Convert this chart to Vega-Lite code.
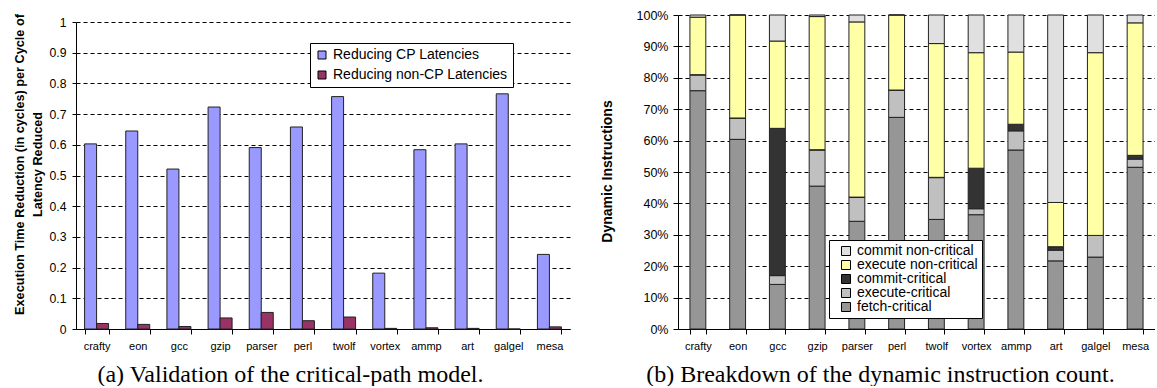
{
  "$schema": "https://vega.github.io/schema/vega-lite/v6.json",
  "background": "white",
  "padding": {"left": 13, "top": 9, "right": 0, "bottom": 0},
  "bounds": "flush",
  "spacing": 108,
  "resolve": {"scale": {"color": "independent", "x": "independent", "y": "independent"}, "legend": {"color": "independent"}},
  "config": {
    "view": {"stroke": null},
    "font": "Liberation Sans",
    "axis": {
      "labelColor": "#000",
      "domainColor": "#000",
      "tickColor": "#000",
      "titleColor": "#000"
    }
  },
  "datasets": {
    "cp": [
      {"bench": "crafty", "series": "Reducing CP Latencies", "value": 0.603},
      {"bench": "crafty", "series": "Reducing non-CP Latencies", "value": 0.018},
      {"bench": "eon", "series": "Reducing CP Latencies", "value": 0.645},
      {"bench": "eon", "series": "Reducing non-CP Latencies", "value": 0.015},
      {"bench": "gcc", "series": "Reducing CP Latencies", "value": 0.521},
      {"bench": "gcc", "series": "Reducing non-CP Latencies", "value": 0.008},
      {"bench": "gzip", "series": "Reducing CP Latencies", "value": 0.723},
      {"bench": "gzip", "series": "Reducing non-CP Latencies", "value": 0.036},
      {"bench": "parser", "series": "Reducing CP Latencies", "value": 0.591},
      {"bench": "parser", "series": "Reducing non-CP Latencies", "value": 0.054},
      {"bench": "perl", "series": "Reducing CP Latencies", "value": 0.658},
      {"bench": "perl", "series": "Reducing non-CP Latencies", "value": 0.027},
      {"bench": "twolf", "series": "Reducing CP Latencies", "value": 0.757},
      {"bench": "twolf", "series": "Reducing non-CP Latencies", "value": 0.039},
      {"bench": "vortex", "series": "Reducing CP Latencies", "value": 0.182},
      {"bench": "vortex", "series": "Reducing non-CP Latencies", "value": 0.002},
      {"bench": "ammp", "series": "Reducing CP Latencies", "value": 0.584},
      {"bench": "ammp", "series": "Reducing non-CP Latencies", "value": 0.004},
      {"bench": "art", "series": "Reducing CP Latencies", "value": 0.603},
      {"bench": "art", "series": "Reducing non-CP Latencies", "value": 0.002},
      {"bench": "galgel", "series": "Reducing CP Latencies", "value": 0.766},
      {"bench": "galgel", "series": "Reducing non-CP Latencies", "value": 0.0},
      {"bench": "mesa", "series": "Reducing CP Latencies", "value": 0.243},
      {"bench": "mesa", "series": "Reducing non-CP Latencies", "value": 0.007}
    ],
    "dyn": [
      {"bench": "crafty", "type": "fetch-critical", "k": 1, "value": 0.759},
      {"bench": "crafty", "type": "execute-critical", "k": 2, "value": 0.050},
      {"bench": "crafty", "type": "commit-critical", "k": 3, "value": 0.001},
      {"bench": "crafty", "type": "execute non-critical", "k": 4, "value": 0.183},
      {"bench": "crafty", "type": "commit non-critical", "k": 5, "value": 0.007},
      {"bench": "eon", "type": "fetch-critical", "k": 1, "value": 0.604},
      {"bench": "eon", "type": "execute-critical", "k": 2, "value": 0.068},
      {"bench": "eon", "type": "commit-critical", "k": 3, "value": 0.0},
      {"bench": "eon", "type": "execute non-critical", "k": 4, "value": 0.328},
      {"bench": "eon", "type": "commit non-critical", "k": 5, "value": 0.0},
      {"bench": "gcc", "type": "fetch-critical", "k": 1, "value": 0.142},
      {"bench": "gcc", "type": "execute-critical", "k": 2, "value": 0.028},
      {"bench": "gcc", "type": "commit-critical", "k": 3, "value": 0.469},
      {"bench": "gcc", "type": "execute non-critical", "k": 4, "value": 0.278},
      {"bench": "gcc", "type": "commit non-critical", "k": 5, "value": 0.083},
      {"bench": "gzip", "type": "fetch-critical", "k": 1, "value": 0.455},
      {"bench": "gzip", "type": "execute-critical", "k": 2, "value": 0.115},
      {"bench": "gzip", "type": "commit-critical", "k": 3, "value": 0.001},
      {"bench": "gzip", "type": "execute non-critical", "k": 4, "value": 0.424},
      {"bench": "gzip", "type": "commit non-critical", "k": 5, "value": 0.005},
      {"bench": "parser", "type": "fetch-critical", "k": 1, "value": 0.343},
      {"bench": "parser", "type": "execute-critical", "k": 2, "value": 0.076},
      {"bench": "parser", "type": "commit-critical", "k": 3, "value": 0.001},
      {"bench": "parser", "type": "execute non-critical", "k": 4, "value": 0.558},
      {"bench": "parser", "type": "commit non-critical", "k": 5, "value": 0.022},
      {"bench": "perl", "type": "fetch-critical", "k": 1, "value": 0.674},
      {"bench": "perl", "type": "execute-critical", "k": 2, "value": 0.087},
      {"bench": "perl", "type": "commit-critical", "k": 3, "value": 0.0},
      {"bench": "perl", "type": "execute non-critical", "k": 4, "value": 0.239},
      {"bench": "perl", "type": "commit non-critical", "k": 5, "value": 0.0},
      {"bench": "twolf", "type": "fetch-critical", "k": 1, "value": 0.349},
      {"bench": "twolf", "type": "execute-critical", "k": 2, "value": 0.133},
      {"bench": "twolf", "type": "commit-critical", "k": 3, "value": 0.001},
      {"bench": "twolf", "type": "execute non-critical", "k": 4, "value": 0.426},
      {"bench": "twolf", "type": "commit non-critical", "k": 5, "value": 0.091},
      {"bench": "vortex", "type": "fetch-critical", "k": 1, "value": 0.364},
      {"bench": "vortex", "type": "execute-critical", "k": 2, "value": 0.019},
      {"bench": "vortex", "type": "commit-critical", "k": 3, "value": 0.129},
      {"bench": "vortex", "type": "execute non-critical", "k": 4, "value": 0.368},
      {"bench": "vortex", "type": "commit non-critical", "k": 5, "value": 0.120},
      {"bench": "ammp", "type": "fetch-critical", "k": 1, "value": 0.570},
      {"bench": "ammp", "type": "execute-critical", "k": 2, "value": 0.061},
      {"bench": "ammp", "type": "commit-critical", "k": 3, "value": 0.021},
      {"bench": "ammp", "type": "execute non-critical", "k": 4, "value": 0.230},
      {"bench": "ammp", "type": "commit non-critical", "k": 5, "value": 0.118},
      {"bench": "art", "type": "fetch-critical", "k": 1, "value": 0.217},
      {"bench": "art", "type": "execute-critical", "k": 2, "value": 0.034},
      {"bench": "art", "type": "commit-critical", "k": 3, "value": 0.011},
      {"bench": "art", "type": "execute non-critical", "k": 4, "value": 0.141},
      {"bench": "art", "type": "commit non-critical", "k": 5, "value": 0.597},
      {"bench": "galgel", "type": "fetch-critical", "k": 1, "value": 0.229},
      {"bench": "galgel", "type": "execute-critical", "k": 2, "value": 0.069},
      {"bench": "galgel", "type": "commit-critical", "k": 3, "value": 0.0},
      {"bench": "galgel", "type": "execute non-critical", "k": 4, "value": 0.582},
      {"bench": "galgel", "type": "commit non-critical", "k": 5, "value": 0.120},
      {"bench": "mesa", "type": "fetch-critical", "k": 1, "value": 0.515},
      {"bench": "mesa", "type": "execute-critical", "k": 2, "value": 0.026},
      {"bench": "mesa", "type": "commit-critical", "k": 3, "value": 0.012},
      {"bench": "mesa", "type": "execute non-critical", "k": 4, "value": 0.422},
      {"bench": "mesa", "type": "commit non-critical", "k": 5, "value": 0.025}
    ]
  },
  "hconcat": [
    {
      "width": 494,
      "height": 314,
      "data": {"name": "cp"},
      "mark": {"type": "bar", "stroke": "#222", "strokeWidth": 1},
      "encoding": {
        "x": {
          "field": "bench", "type": "nominal", "sort": null,
          "scale": {"paddingInner": 0.417, "paddingOuter": 0.2085},
          "axis": {
            "title": "(a) Validation of the critical-path model.",
            "titleFont": "Liberation Serif", "titleFontSize": 24, "titleFontWeight": "normal",
            "titleX": 214, "titleY": 52, "titleAlign": "center", "titleBaseline": "alphabetic",
            "labelAngle": 0, "labelFontSize": 11, "labelPadding": 6, "tickSize": 5,
            "tickBand": "extent", "grid": false
          }
        },
        "xOffset": {
          "field": "series", "type": "nominal", "sort": null,
          "scale": {"domain": ["Reducing CP Latencies", "Reducing non-CP Latencies"], "paddingInner": 0, "paddingOuter": 0}
        },
        "y": {
          "field": "value", "type": "quantitative",
          "scale": {"domain": [0, 1], "range": [314, 7], "nice": false},
          "axis": {
            "values": [0, 0.1, 0.2, 0.3, 0.4, 0.5, 0.6, 0.7, 0.8, 0.9, 1],
            "format": "~g",
            "grid": true, "gridDash": [4, 3], "gridColor": "#000", "gridWidth": 1,
            "labelFontSize": 12.2, "labelPadding": 6, "tickSize": 4,
            "title": ["Execution Time Reduction (in cycles) per Cycle of", "Latency Reduced"],
            "titleFontSize": 12.7, "titleFontWeight": "bold", "titleLineHeight": 18,
            "titleX": -57, "titleY": 149, "titleBaseline": "middle", "titleAlign": "center", "titleAngle": -90
          }
        },
        "color": {
          "field": "series", "type": "nominal", "sort": null,
          "scale": {"domain": ["Reducing CP Latencies", "Reducing non-CP Latencies"], "range": ["#9999FF", "#993366"]},
          "legend": {
            "title": null, "orient": "none", "legendX": 234, "legendY": 28,
            "direction": "vertical",
            "fillColor": "white", "strokeColor": "#000", "padding": 5,
            "labelFontSize": 14, "labelColor": "#000", "labelOffset": 4, "labelLimit": 300,
            "symbolType": "square", "symbolSize": 64, "symbolStrokeColor": "#000", "symbolStrokeWidth": 1,
            "rowPadding": 6
          }
        }
      }
    },
    {
      "width": 477,
      "height": 314,
      "data": {"name": "dyn"},
      "mark": {"type": "bar", "stroke": "#222", "strokeWidth": 1},
      "encoding": {
        "x": {
          "field": "bench", "type": "nominal", "sort": null,
          "scale": {"paddingInner": 0.6, "paddingOuter": 0.3},
          "axis": {
            "title": "(b) Breakdown of the dynamic instruction count.",
            "titleFont": "Liberation Serif", "titleFontSize": 24, "titleFontWeight": "normal",
            "titleX": 202, "titleY": 52, "titleAlign": "center", "titleBaseline": "alphabetic",
            "labelAngle": 0, "labelFontSize": 11, "labelPadding": 6, "tickSize": 5,
            "tickBand": "extent", "grid": false
          }
        },
        "y": {
          "field": "value", "type": "quantitative", "stack": "zero",
          "scale": {"domain": [0, 1], "nice": false},
          "axis": {
            "values": [0, 0.1, 0.2, 0.3, 0.4, 0.5, 0.6, 0.7, 0.8, 0.9, 1],
            "format": ".0%",
            "grid": true, "gridDash": [4, 3], "gridColor": "#000", "gridWidth": 1,
            "labelFontSize": 12.5, "labelPadding": 5, "tickSize": 5,
            "title": "Dynamic Instructions",
            "titleFontSize": 14, "titleFontWeight": "bold",
            "titleX": -71, "titleY": 156, "titleBaseline": "middle", "titleAlign": "center", "titleAngle": -90
          }
        },
        "color": {
          "field": "type", "type": "nominal",
          "scale": {
            "domain": ["commit non-critical", "execute non-critical", "commit-critical", "execute-critical", "fetch-critical"],
            "range": ["#E0E0E0", "#FFFFA6", "#333333", "#C0C0C0", "#969696"]
          },
          "legend": {
            "title": null, "orient": "none", "legendX": 151, "legendY": 225,
            "direction": "vertical",
            "fillColor": "white", "strokeColor": "#000", "padding": 4,
            "labelFontSize": 14, "labelColor": "#000", "labelOffset": 4, "labelLimit": 300,
            "symbolType": "square", "symbolSize": 81, "symbolStrokeColor": "#000", "symbolStrokeWidth": 1,
            "symbolOffset": 6, "rowPadding": 0
          }
        },
        "order": {"field": "k", "type": "quantitative", "sort": "ascending"}
      }
    }
  ]
}
